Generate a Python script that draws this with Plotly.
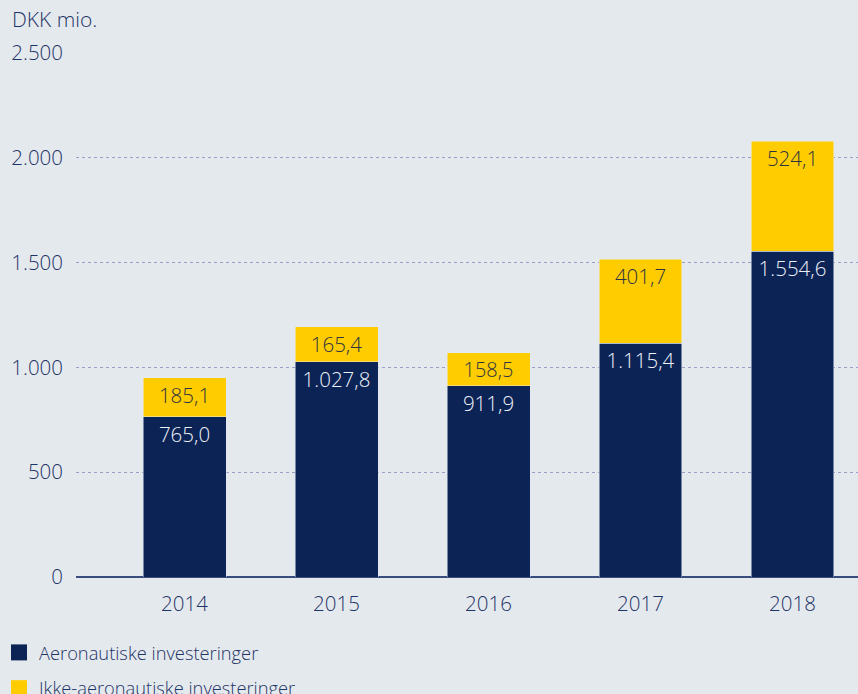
import plotly.graph_objects as go

years = ["2014", "2015", "2016", "2017", "2018"]
aero = [765.0, 1027.8, 911.9, 1115.4, 1554.6]
non_aero = [185.1, 165.4, 158.5, 401.7, 524.1]
series_names = ["Aeronautiske investeringer", "Ikke-aeronautiske investeringer"]
y_ticks = [0, 500, 1000, 1500, 2000, 2500]

NAVY = "#0c2356"
YELLOW = "#ffcc00"
TEXT = "#1f3466"
BG = "#e4e9ee"
FONT = "Open Sans"
W = 300

fig = go.Figure()
fig.add_trace(go.Bar(
    x=years, y=aero, name=series_names[0], marker_color=NAVY,
    width=0.546, texttemplate="%{y:,.1f}", textposition="inside", textangle=0,
    insidetextanchor="end", textfont=dict(color="#eef1f7", size=20.5, family=FONT, weight=W),
    showlegend=False, hoverinfo="skip",
))
fig.add_trace(go.Bar(
    x=years, y=non_aero, name=series_names[1], marker_color=YELLOW,
    width=0.546, texttemplate="%{y:,.1f}", textposition="inside", textangle=0,
    insidetextanchor="end", textfont=dict(color="#2e3340", size=20.5, family=FONT, weight=W),
    showlegend=False, hoverinfo="skip",
))

# legend proxies
for i, (name, col) in enumerate(zip(series_names, [NAVY, YELLOW])):
    fig.add_trace(go.Scatter(
        x=[None], y=[None], mode="markers", name=name, legendgroup=f"g{i}",
        marker=dict(symbol="square", size=16, color=col),
    ))

fig.update_layout(
    width=858, height=694,
    barmode="stack",
    separators=",.",
    paper_bgcolor=BG, plot_bgcolor=BG,
    margin=dict(l=76, r=0, t=53, b=117, autoexpand=False),
    font=dict(family=FONT, size=20, color=TEXT, weight=W),
    title=dict(text="DKK mio.", xref="container", x=12/858, xanchor="left",
               yref="container", y=(694-20)/694, yanchor="middle",
               font=dict(size=21, color=TEXT, family=FONT, weight=W)),
    legend=dict(xref="paper", yref="paper", x=-77/782, y=-(634-577)/524,
                xanchor="left", yanchor="top", orientation="v",
                traceorder="grouped",
                font=dict(size=18.3, color=TEXT, family=FONT, weight=W),
                bgcolor="rgba(0,0,0,0)", tracegroupgap=9, itemwidth=30),
)
fig.update_xaxes(
    type="category", range=[-0.714, 4.431], showgrid=False,
    ticks="", ticklabelstandoff=12, showline=False, zeroline=False,
    tickfont=dict(size=20.5, color=TEXT, family=FONT, weight=W),
)
fig.update_yaxes(
    range=[0, 2500], tickvals=y_ticks, tickformat=",d",
    showgrid=True, gridcolor="#9a9ec8", griddash="dot", gridwidth=1,
    zeroline=True, zerolinecolor="#3a4c7e", zerolinewidth=2,
    ticks="", ticklabelstandoff=12, tickfont=dict(size=20.5, color=TEXT, family=FONT, weight=W),
)

fig.write_html("out.html", config={"displayModeBar": False},
               post_script="document.body.style.margin='0';")
